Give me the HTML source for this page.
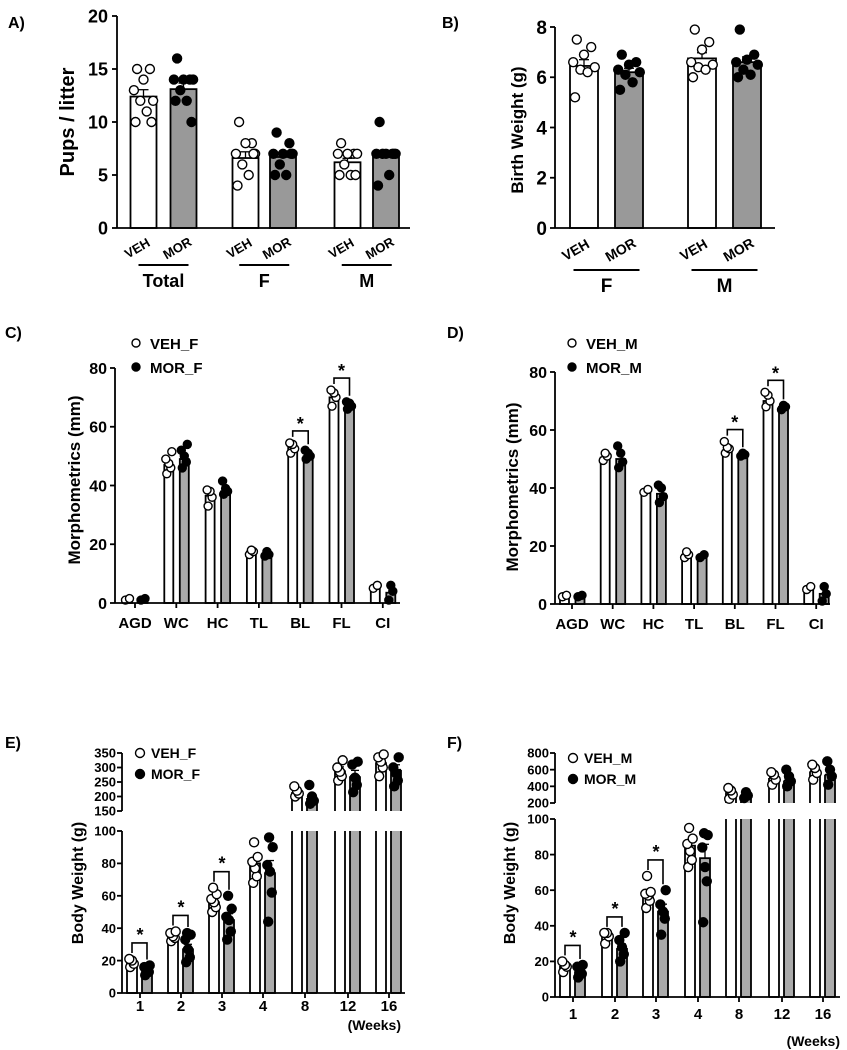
<!DOCTYPE html>
<html><head><meta charset="utf-8">
<style>
body{margin:0;background:#fff;}
svg{display:block;font-family:"Liberation Sans",Arial,sans-serif;font-weight:bold;}
</style></head>
<body>
<svg id="fig" width="847" height="1050" viewBox="0 0 847 1050"></svg>
<script>
// ---------- DATA ----------
const aGroups = ["Total","F","M"];
const aVehMeans = [12.4, 6.6, 6.2];
const aMorMeans = [13.1, 6.7, 6.7];
const aVehPts = [[15,15,14,13,12,12,11,10,10],[10,8,8,7,7,6,5,4,7],[8,7,7,7,7,6,5,5,5]];
const aMorPts = [[16,14,14,14,14,13,12,12,10],[9,8,7,7,7,6,5,5,7],[10,7,7,7,7,7,5,4,7]];
const aTicks = [0,5,10,15,20];
const bGroups = ["F","M"];
const bVehMeans = [6.45, 6.75];
const bMorMeans = [6.2, 6.6];
const bVehPts = [[7.5,7.2,6.9,6.6,6.4,6.3,6.2,5.2],[7.9,7.4,7.1,6.6,6.5,6.4,6.3,6.0]];
const bMorPts = [[6.9,6.6,6.5,6.3,6.2,6.1,5.8,5.5],[7.9,6.9,6.7,6.6,6.5,6.3,6.1,6.0]];
const bTicks = [0,2,4,6,8];
const morphCats = ["AGD","WC","HC","TL","BL","FL","CI"];
const cVehMeans = [1.2,47,36.5,17.5,53,70,5.5];
const cMorMeans = [1.2,49,38,16.5,50,67,3.5];
const cVehPts = [[1,1.5],[44,46,47.5,49,51.5],[33,36,38,38.5],[16.5,17.5,18],[51,52.5,54,54.5],[67,70,71.5,72.5],[5,6]];
const cMorPts = [[1,1.5],[46,48,50,52,54],[37,38,39,41.5],[16,16.5,17.5],[49,50,51,52],[66,67,68,68.5],[1,4,6]];
const dVehMeans = [2.5,50.5,39,17,53,70,5];
const dMorMeans = [2.5,50,38,16.5,51,68,3.5];
const dVehPts = [[2.5,3],[49.5,51,52],[38.5,39.5],[16,17,18],[52,53.5,54,56],[68,70,72,73],[5,6]];
const dMorPts = [[2.5,3],[47,49,52,54.5],[35,37,40,41],[16,17],[51,51.5,52],[67,68,68.5],[1,3.5,6]];
const morphTicks = [0,20,40,60,80];
const cSig = [4,5];
const dSig = [4,5];
const weeks = ["1","2","3","4","8","12","16"];
const eVehMeans = [18,34,56,80,215,290,318];
const eMorMeans = [13,27,45,74,195,270,292];
const eVehPts = [[16,18,20,21],[32,34,35,37,38],[50,53,56,58,61,65],[68,72,77,81,84,93],[200,210,220,235],[255,270,285,300,325],[270,300,320,335,345]];
const eMorPts = [[11,13,14,16,17],[19,22,27,33,36,37],[33,38,45,47,52,60],[44,62,75,79,90,96],[175,185,200,240],[215,240,265,310,320],[235,255,280,300,335]];
const eUpTicks = [150,200,250,300,350];
const eLowTicks = [0,20,40,60,80,100];
const eSig = [0,1,2];
const fVehMeans = [17,34,56,85,330,500,580];
const fMorMeans = [14,27,48,78,290,470,540];
const fVehPts = [[14,17,18,20],[30,34,36,36],[50,54,57,58,59,68],[73,77,82,86,89,95],[250,300,350,380],[420,480,540,570],[480,560,620,660]];
const fMorPts = [[11,13,15,17,18],[20,24,28,32,36],[35,44,48,52,60],[42,65,73,84,91,92],[260,290,330],[400,460,520,600],[420,520,600,700]];
const fUpTicks = [200,400,600,800];
const fLowTicks = [0,20,40,60,80,100];
const fSig = [0,1,2];

// ---------- HELPERS ----------
const NS="http://www.w3.org/2000/svg";
const svg=document.getElementById('fig');
function el(tag,attrs,parent){const e=document.createElementNS(NS,tag);for(const k in attrs)e.setAttribute(k,attrs[k]);(parent||svg).appendChild(e);return e;}
function txt(s,x,y,size,anchor,parent,rot){const t=el('text',{x:x,y:y,'font-size':size,'text-anchor':anchor||'middle',fill:'#000'},parent);if(rot!==undefined)t.setAttribute('transform','rotate('+rot+' '+x+' '+y+')');t.textContent=s;return t;}
function line(x1,y1,x2,y2,w,parent){return el('line',{x1:x1,y1:y1,x2:x2,y2:y2,stroke:'#000','stroke-width':w||1.5},parent);}
const jit=[-4,4,0,-6,6,-2,2,-5,5,-3,3];
function mean(a){return a.reduce((s,v)=>s+v,0)/a.length;}
function sem(a){const m=mean(a);return Math.sqrt(a.reduce((s,v)=>s+(v-m)*(v-m),0)/(a.length-1))/Math.sqrt(a.length);}
function drawBar(g,cx,w,yTop,yBot,fill){return el('rect',{x:cx-w/2,y:Math.min(yTop,yBot),width:w,height:Math.abs(yBot-yTop),fill:fill,stroke:'#000','stroke-width':1.8},g);}
function drawOpenBar(g,cx,w,yTop,yBot,fill,openTop,openBot){
 el('rect',{x:cx-w/2,y:yTop,width:w,height:yBot-yTop,fill:fill,stroke:'none'},g);
 let d=`M${cx-w/2},${yBot} V${yTop} M${cx+w/2},${yTop} V${yBot}`;
 if(!openTop)d+=` M${cx-w/2},${yTop} H${cx+w/2}`;
 if(!openBot)d+=` M${cx-w/2},${yBot} H${cx+w/2}`;
 return el('path',{d:d,fill:'none',stroke:'#000','stroke-width':1.8},g);
}
function drawErr(g,cx,yM,yE,cap){line(cx,yM,cx,yE,1.3,g);line(cx-cap,yE,cx+cap,yE,1.3,g);}
function drawPts(g,cx,pts,ys,r,filled,spread){pts.forEach((v,i)=>{const c=el('circle',{cx:cx+jit[i%jit.length]*spread,cy:ys(v),r:r,fill:filled?'#000':'#fff',stroke:'#000','stroke-width':1.4},g);});}
function yAxis(g,x,ys,ticks,size,labX,y1,y2){line(x,y1,x,y2,1.8,g);ticks.forEach(t=>{line(x-5,ys(t),x,ys(t),1.8,g);txt(String(t),labX,ys(t)+size*0.36,size,'end',g);});}
function group(name){const g=el('g',{});return g;}

// ---------- PANEL A ----------
(function(){
 const g=group('panel-a-pups-per-litter');
 txt('A)',8,28,16,'start',g);
 const y=v=>228-v*(212/20);
 const cx=[[143.5,183.5],[245.5,283],[347.5,386]];
 aGroups.forEach((grp,i)=>{
  const bv=drawBar(g,cx[i][0],26,y(aVehMeans[i]),y(0),'#fff');
  const bm=drawBar(g,cx[i][1],26,y(aMorMeans[i]),y(0),'#999');
  drawErr(g,cx[i][0],y(aVehMeans[i]),y(aVehMeans[i]+sem(aVehPts[i])),5);
  drawErr(g,cx[i][1],y(aMorMeans[i]),y(aMorMeans[i]+sem(aMorPts[i])),5);
  drawPts(g,cx[i][0],aVehPts[i],y,4.5,false,1.6);
  drawPts(g,cx[i][1],aMorPts[i],y,4.5,true,1.6);
  txt('VEH',cx[i][0]-4,252,13,'middle',g,-30);
  txt('MOR',cx[i][1]-4,252,13,'middle',g,-30);
  const mid=(cx[i][0]+cx[i][1])/2;
  line(mid-25,265,mid+25,265,2,g);
  txt(grp,mid,287,18,'middle',g);
 });
 yAxis(g,117,y,aTicks,18,108,y(20),228);
 line(117,228,410,228,1.8,g);
 txt('Pups / litter',74,122,20,'middle',g,-90);
})();

// ---------- PANEL B ----------
(function(){
 const g=group('panel-b-birth-weight');
 txt('B)',442,28,16,'start',g);
 const y=v=>228-v*(201/8);
 const cx=[[584,629],[702,747]];
 bGroups.forEach((grp,i)=>{
  const bv=drawBar(g,cx[i][0],28,y(bVehMeans[i]),y(0),'#fff');
  const bm=drawBar(g,cx[i][1],28,y(bMorMeans[i]),y(0),'#999');
  drawErr(g,cx[i][0],y(bVehMeans[i]),y(bVehMeans[i]+sem(bVehPts[i])),5);
  drawErr(g,cx[i][1],y(bMorMeans[i]),y(bMorMeans[i]+sem(bMorPts[i])),5);
  drawPts(g,cx[i][0],bVehPts[i],y,4.5,false,1.8);
  drawPts(g,cx[i][1],bMorPts[i],y,4.5,true,1.8);
  txt('VEH',cx[i][0]-6,254,14,'middle',g,-30);
  txt('MOR',cx[i][1]-6,254,14,'middle',g,-30);
  const mid=(cx[i][0]+cx[i][1])/2;
  line(mid-33,270,mid+33,270,2,g);
  txt(grp,mid,292,19,'middle',g);
 });
 yAxis(g,555,y,bTicks,19,547,y(8),228);
 line(555,228,775,228,1.8,g);
 txt('Birth Weight (g)',523,130,17,'middle',g,-90);
})();

// ---------- PANEL C / D ----------
function morphPanel(name,letter,lx,axX,y0,y80,xStart,xEnd,step,vm,mm,vp,mp,sig,legV,legM,legX,yTitleX,yTitleY){
 const g=group(name);
 txt(letter,lx,338,16,'start',g);
 const y=v=>y0-v*((y0-y80)/80);
 const xc=i=>xStart+i*step;
 morphCats.forEach((c,i)=>{
  const bv=drawBar(g,xc(i)-7.5,9,y(vm[i]),y(0),'#fff');
  const bm=drawBar(g,xc(i)+8,9,y(mm[i]),y(0),'#aaa');
  drawPts(g,xc(i)-7.5,vp[i],y,4,false,0.5);
  drawPts(g,xc(i)+8,mp[i],y,4,true,0.5);
  line(xc(i),y0,xc(i),y0+5,1.8,g);
  txt(c,xc(i),y0+25,15,'middle',g);
 });
 sig.forEach(i=>{
  const top=y(Math.max(...vp[i],...mp[i]))-12;
  const l=el('path',{d:`M${xc(i)-7.5},${top+6} V${top} H${xc(i)+8} V${y(Math.max(...mp[i]))-6}`,fill:'none',stroke:'#000','stroke-width':1.6},g);
  
  txt('*',xc(i),top-1,18,'middle',g);
 });
 yAxis(g,axX,y,morphTicks,16,axX-8,y80,y0);
 line(axX,y0,xEnd,y0,1.8,g);
 el('circle',{cx:legX,cy:343,r:4,fill:'#fff',stroke:'#000','stroke-width':1.4},g);
 txt(legV,legX+14,349,15,'start',g);
 el('circle',{cx:legX,cy:367,r:4,fill:'#000',stroke:'#000','stroke-width':1.4},g);
 txt(legM,legX+14,373,15,'start',g);
 txt('Morphometrics (mm)',yTitleX,yTitleY,17,'middle',g,-90);
}
morphPanel('panel-c-morphometrics-female','C)',5,115,603,368,135,400,41.3,cVehMeans,cMorMeans,cVehPts,cMorPts,cSig,'VEH_F','MOR_F',136,80,480);
morphPanel('panel-d-morphometrics-male','D)',447,555,604,372,572,830,40.7,dVehMeans,dMorMeans,dVehPts,dMorPts,dSig,'VEH_M','MOR_M',572,518,487);

// ---------- PANEL E / F ----------
function bwPanel(name,letter,lx,axX,yL0,yL100,yUlo,yUhi,uLo,uHi,xEnd,centers,vm,mm,vp,mp,upT,lowT,sig,legV,legM,legX,legY,labY,wkX,wkY,tX,tY){
 const g=group(name);
 txt(letter,lx,748,16,'start',g);
 const yl=v=>yL0-v*((yL0-yL100)/100);
 const yu=v=>yUlo-(v-uLo)*((yUlo-yUhi)/(uHi-uLo));
 const ys=v=>v>uLo?yu(v):yl(v);
 weeks.forEach((w,i)=>{
  [[vm[i],vp[i],-8,'#fff',false],[mm[i],mp[i],7,'#aaa',true]].forEach(([m,pts,off,fill,filled])=>{
   const cx=centers[i]+off;
   if(m>uLo){
    const b1=drawOpenBar(g,cx,10,yu(m),yUlo,fill,false,true);
    const b2=drawOpenBar(g,cx,10,yL100,yL0,fill,true,false);
    drawErr(g,cx,yu(m),yu(m+sem(pts)),4);
   }else{
    const b=drawBar(g,cx,10,yl(m),yL0,fill);
    drawErr(g,cx,yl(m),yl(m+sem(pts)),4);
   }
   drawPts(g,cx,pts,ys,4.5,filled,0.45);
  });
  line(centers[i],yL0,centers[i],yL0+5,1.8,g);
  txt(w,centers[i],labY,15,'middle',g);
 });
 sig.forEach(i=>{
  const top=yl(Math.max(...vp[i],...mp[i]))-16;
  const p=el('path',{d:`M${centers[i]-8},${yl(Math.max(...vp[i]))-6} V${top} H${centers[i]+7} V${yl(Math.max(...mp[i]))-6}`,fill:'none',stroke:'#000','stroke-width':1.6},g);
  
  txt('*',centers[i],top-2,18,'middle',g);
 });
 yAxis(g,axX,yu,upT,13,axX-6,yUhi,yUlo);
 yAxis(g,axX,yl,lowT,13,axX-6,yL100,yL0);
 line(axX,yL0,xEnd,yL0,1.8,g);
 el('circle',{cx:legX,cy:legY,r:4.5,fill:'#fff',stroke:'#000','stroke-width':1.4},g);
 txt(legV,legX+11,legY+5,14,'start',g);
 el('circle',{cx:legX,cy:legY+21,r:4.5,fill:'#000',stroke:'#000','stroke-width':1.4},g);
 txt(legM,legX+11,legY+26,14,'start',g);
 txt('(Weeks)',wkX,wkY,14,'end',g);
 txt('Body Weight (g)',tX,tY,16,'middle',g,-90);
}
bwPanel('panel-e-body-weight-female','E)',5,122,993,831,811,753,150,350,405,[140,181,222,263,305,348,389],eVehMeans,eMorMeans,eVehPts,eMorPts,eUpTicks,eLowTicks,eSig,'VEH_F','MOR_F',140,753,1011,401,1030,83,883);
bwPanel('panel-f-body-weight-male','F)',447,555,997,819,803,753,200,800,840,[573,615,656,698,739,782,823],fVehMeans,fMorMeans,fVehPts,fMorPts,fUpTicks,fLowTicks,fSig,'VEH_M','MOR_M',573,758,1019,840,1046,515,883);
</script>
</body></html>
